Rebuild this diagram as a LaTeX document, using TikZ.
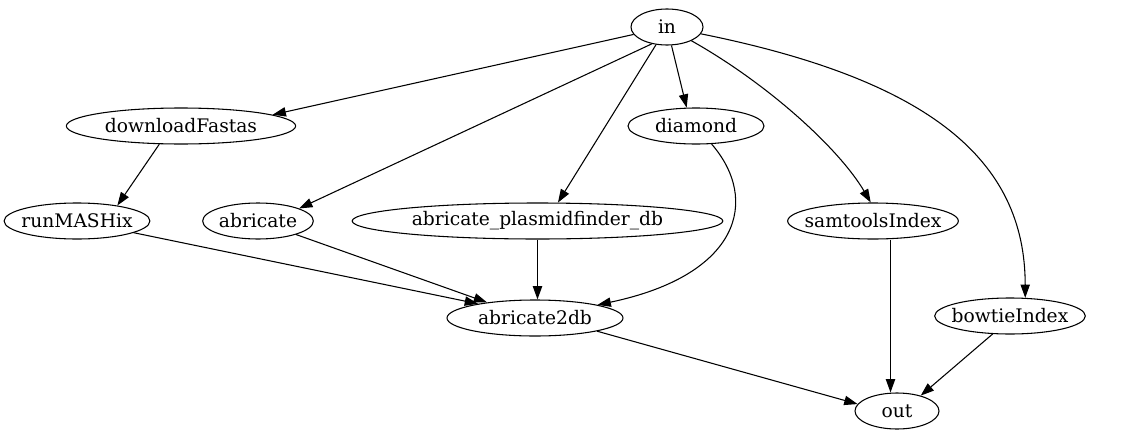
\documentclass[tikz,border=0pt]{standalone}
\usepackage{fontspec}
\setmainfont{DejaVu Serif}
\usetikzlibrary{arrows.meta,shapes.geometric}

\begin{document}
\begin{tikzpicture}[x=0.75pt, y=-0.75pt,
  font=\fontsize{14}{16}\selectfont,
  nd/.style={draw, ellipse, line width=0.8pt, inner sep=0pt, minimum height=27pt},
  arr/.style={-{Triangle[length=10pt, width=7pt]}, line width=0.8pt}]

\useasboundingbox (0,0) rectangle (1121,443);

\node[nd, minimum width=54pt]  (in)   at (667, 27)  {in};
\node[nd, minimum width=172pt] (dlf)  at (181, 126) {downloadFastas};
\node[nd, minimum width=102pt] (dia)  at (696, 126) {diamond};
\node[nd, minimum width=108pt, inner xsep=-3pt] (mash) at (77, 221) {runMASHix};
\node[nd, minimum width=83pt]  (abr)  at (258, 221) {abricate};
\node[nd, minimum width=278pt] (abrp) at (537.5, 221) {abricate\_plasmidfinder\_db};
\node[nd, minimum width=128pt, inner xsep=-6.4pt] (sam) at (873, 221) {samtoolsIndex};
\node[nd, minimum width=132pt] (a2db) at (535, 318) {abricate2db};
\node[nd, minimum width=113pt, inner xsep=-3.8pt] (bow) at (1010, 316) {bowtieIndex};
\node[nd, minimum width=63pt]  (out)  at (897, 411) {out};

\draw[arr] (in) -- (dlf.7);
\draw[arr] (in.228) -- (abr.17);
\draw[arr] (in) -- (abrp.42);
\draw[arr] (in) -- (dia.117);
\draw[arr] (in) .. controls (770,85) and (840,150) .. (sam.97);
\draw[arr] (in) .. controls (930,80) and (1025,160) .. (bow.50);
\draw[arr] (dlf.220) -- (mash.21);
\draw[arr] (mash) -- (a2db.166);
\draw[arr] (abr) -- (a2db.162);
\draw[arr] (abrp.south) -- (abrp.south |- a2db.north);
\draw[arr] (dia) .. controls (760,200) and (740,275) .. (a2db);
\draw[arr] (sam.south -| 890.5,0) -- (out.north -| 890.5,0);
\draw[arr] (bow.226) -- (out.33);
\draw[arr] (a2db.-12) -- (out.170);
\end{tikzpicture}
\end{document}
